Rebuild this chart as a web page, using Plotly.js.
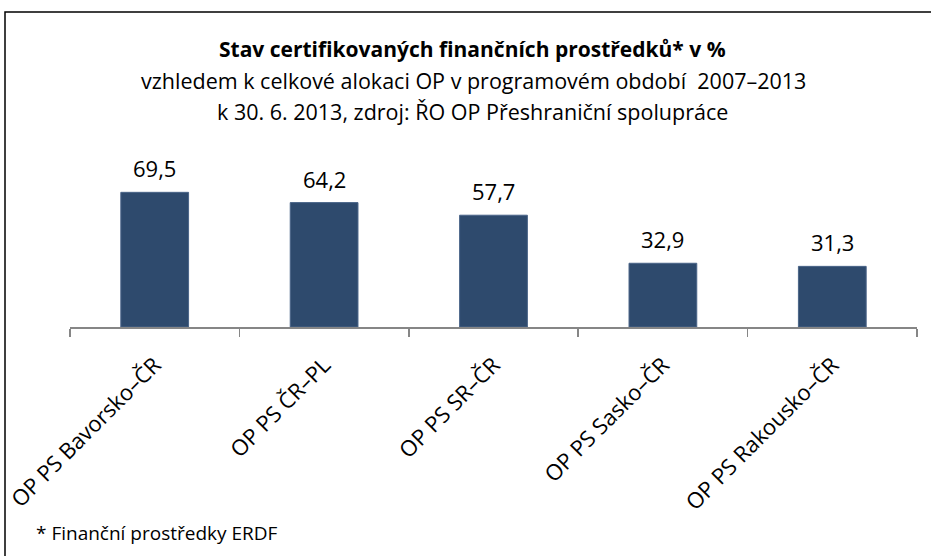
<!DOCTYPE html>
<html>
<head>
<meta charset="utf-8">
<script src="https://cdn.plot.ly/plotly-3.0.1.min.js"></script>
<style>html,body{margin:0;padding:0;background:#fff;}#chart{width:931px;height:556px;}</style>
</head>
<body>
<div id="chart"></div>
<script>
const categories = ["OP PS Bavorsko–ČR", "OP PS ČR–PL", "OP PS SR–ČR", "OP PS Sasko–ČR", "OP PS Rakousko–ČR"];
const values = [69.5, 64.2, 57.7, 32.9, 31.3];
const titleText = "<b>Stav certifikovaných finančních prostředků* v %</b>";
const subtitle1 = "vzhledem k celkové alokaci OP v programovém období  2007–2013";
const subtitle2 = "k 30. 6. 2013, zdroj: ŘO OP Přeshraniční spolupráce";
const footnote = "* Finanční prostředky ERDF";

const W = 931, H = 556;
const M = {l: 70, r: 14, t: 172, b: 229};
const pw = W - M.l - M.r, ph = H - M.t - M.b;
const px = x => (x - M.l) / pw;
const py = y => (H - M.b - y) / ph;

const FONT = "Open Sans, sans-serif";

const annotations = [
  {text: titleText, x: px(472), y: py(49), xref: "paper", yref: "paper", xanchor: "center", yanchor: "middle", showarrow: false, font: {family: FONT, size: 21, color: "#000"}},
  {text: subtitle1, x: px(473), y: py(81), xref: "paper", yref: "paper", xanchor: "center", yanchor: "middle", showarrow: false, font: {family: FONT, size: 21.5, color: "#000"}},
  {text: subtitle2, x: px(472), y: py(112), xref: "paper", yref: "paper", xanchor: "center", yanchor: "middle", showarrow: false, font: {family: FONT, size: 21.5, color: "#000"}},
  {text: footnote, x: px(34), y: py(533), xref: "paper", yref: "paper", xanchor: "left", yanchor: "middle", showarrow: false, font: {family: FONT, size: 19, color: "#000"}}
];
categories.forEach((c, i) => {
  annotations.push({text: values[i].toFixed(1).replace(".", ","), x: c, y: values[i], xref: "x", yref: "y",
    xanchor: "center", yanchor: "bottom", yshift: 7, showarrow: false, font: {family: FONT, size: 22, color: "#000"}});
});

const data = [{
  type: "bar",
  x: categories,
  y: values,
  marker: {color: "#2E4A6D", line: {color: "#4A6488", width: 1}},
  hoverinfo: "skip"
}];

const layout = {
  width: W, height: H,
  margin: M,
  paper_bgcolor: "#fff", plot_bgcolor: "#fff",
  showlegend: false,
  bargap: 0.6,
  font: {family: FONT, color: "#000"},
  xaxis: {
    type: "category",
    showline: true, linecolor: "#868686", linewidth: 1.5,
    ticks: "outside", tickson: "boundaries", ticklen: 8, tickcolor: "#868686", tickwidth: 1.5,
    tickangle: -45, tickfont: {family: FONT, size: 22, color: "#000"},
    ticklabelstandoff: 15,
    showgrid: false, zeroline: false
  },
  yaxis: {range: [0, 80], visible: false, showgrid: false, zeroline: false},
  annotations: annotations,
  shapes: [{type: "rect", xref: "paper", yref: "paper", x0: px(5), x1: px(945), y0: py(12), y1: py(575),
    line: {color: "#000", width: 1.5}, fillcolor: "rgba(0,0,0,0)", layer: "below"}]
};

Plotly.newPlot("chart", data, layout, {displayModeBar: false, staticPlot: true});
</script>
</body>
</html>
